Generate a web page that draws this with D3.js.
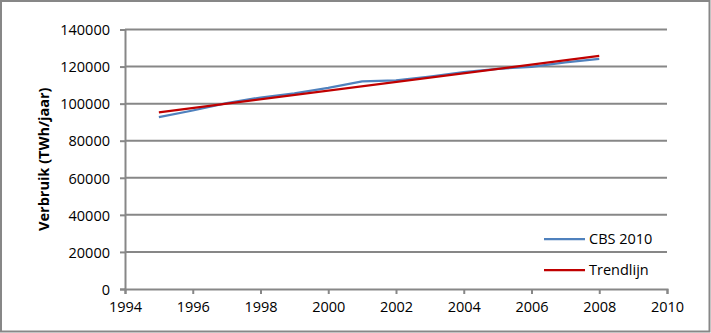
<!DOCTYPE html>
<html>
<head>
<meta charset="utf-8">
<script src="https://cdn.jsdelivr.net/npm/d3@7"></script>
<style>
  html, body { margin: 0; padding: 0; background: #fff; }
  svg { display: block; }
  text { font-family: "Open Sans", "Noto Sans", sans-serif; fill: #000; }
</style>
</head>
<body>
<svg id="chart" width="711" height="333"></svg>
<script>
// Electricity consumption, CBS figures and linear trend
const years = [1995, 1996, 1997, 1998, 1999, 2000, 2001, 2002, 2003, 2004, 2005, 2006, 2007, 2008];
const cbs2010 = [92700, 96300, 100300, 103300, 105600, 108500, 112000, 112500, 114600, 117000, 118800, 119900, 122300, 124200];
const trendStart = 95300;   // trend value at 1995
const trendEnd = 125800;    // trend value at 2008
const trendYears = [1995, 2008];
const trendValues = [trendStart, trendEnd];
const xTicks = [1994, 1996, 1998, 2000, 2002, 2004, 2006, 2008, 2010];
const yTicks = [0, 20000, 40000, 60000, 80000, 100000, 120000, 140000];
const seriesNames = ["CBS 2010", "Trendlijn"];
const seriesColors = ["#4f81bd", "#c00000"];
const yTitle = "Verbruik (TWh/jaar)";

const svg = d3.select("#chart");
const grey = "#878787";

// outer chart border
svg.append("rect")
  .attr("x", 1).attr("y", 1).attr("width", 708.5).attr("height", 330.5)
  .attr("fill", "#fff").attr("stroke", grey).attr("stroke-width", 2);

const x = d3.scaleLinear().domain([1994, 2010]).range([125, 667]);
const y = d3.scaleLinear().domain([0, 140000]).range([289, 29.5]);

// horizontal gridlines
svg.append("g")
  .selectAll("line")
  .data(yTicks.filter(d => d > 0))
  .join("line")
  .attr("x1", x(1994)).attr("x2", x(2010))
  .attr("y1", d => y(d)).attr("y2", d => y(d))
  .attr("stroke", grey).attr("stroke-width", 2);

// y axis
const yAxis = svg.append("g")
  .attr("transform", `translate(${x(1994)},0)`)
  .call(d3.axisLeft(y).tickValues(yTicks).tickFormat(d3.format("d")).tickSize(5).tickPadding(10));
// x axis
const xAxis = svg.append("g")
  .attr("transform", `translate(0,${y(0)})`)
  .call(d3.axisBottom(x).tickValues(xTicks).tickFormat(d3.format("d")).tickSize(5).tickPadding(8));

[yAxis, xAxis].forEach(g => {
  g.select(".domain").attr("stroke", grey).attr("stroke-width", 2);
  g.selectAll(".tick line").attr("stroke", grey).attr("stroke-width", 2);
  g.selectAll(".tick text").attr("font-size", 14.5).attr("fill", "#000")
    .style("font-family", '"Open Sans", sans-serif');
});
yAxis.selectAll(".tick text").attr("dy", "0.36em");

// y axis title
svg.append("text")
  .attr("transform", `translate(49,${(y(0) + y(140000)) / 2}) rotate(-90)`)
  .attr("text-anchor", "middle")
  .attr("font-size", 14.5)
  .attr("font-weight", "bold")
  .text(yTitle);

const line = d3.line().x(d => x(d[0])).y(d => y(d[1]));

// CBS series
svg.append("path")
  .datum(years.map((yr, i) => [yr, cbs2010[i]]))
  .attr("d", line)
  .attr("fill", "none")
  .attr("stroke", seriesColors[0])
  .attr("stroke-width", 2.25);

// trend line
svg.append("path")
  .datum(trendYears.map((yr, i) => [yr, trendValues[i]]))
  .attr("d", line)
  .attr("fill", "none")
  .attr("stroke", seriesColors[1])
  .attr("stroke-width", 2.25);

// legend
const legend = svg.append("g");
seriesNames.forEach((name, i) => {
  const ly = 239 + i * 31;
  legend.append("line")
    .attr("x1", 544).attr("x2", 585)
    .attr("y1", ly).attr("y2", ly)
    .attr("stroke", seriesColors[i]).attr("stroke-width", 2.25);
  legend.append("text")
    .attr("x", 589).attr("y", ly)
    .attr("dy", "0.36em")
    .attr("font-size", 14.5)
    .text(name);
});
</script>
</body>
</html>
